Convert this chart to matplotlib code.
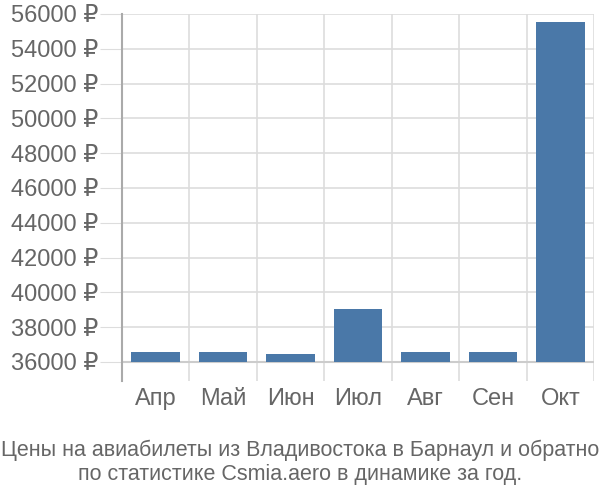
import matplotlib.pyplot as plt
import numpy as np

plt.rcParams['font.family'] = ['Liberation Sans', 'DejaVu Sans']

# monthly prices (rub)
months = ['Апр', 'Май', 'Июн', 'Июл', 'Авг', 'Сен', 'Окт']
prices = [36580, 36580, 36440, 39030, 36580, 36560, 55520]
base = 36000
yticks = list(range(36000, 56001, 2000))
title = 'Цены на авиабилеты из Владивостока в Барнаул и обратно\nпо статистике Csmia.aero в динамике за год.'

fig = plt.figure(figsize=(6, 5), dpi=100)
ax = fig.add_axes([0.203, 0.238, 0.787, 0.734])

x = np.arange(len(months))
ax.bar(x, [p - base for p in prices], bottom=base, width=0.72, color='#4a78a8', zorder=3)

ax.set_xlim(-0.5, len(months) - 0.5)
ax.set_ylim(34900, 56000)

ax.set_yticks(yticks)
ax.set_yticklabels(['%d ₽' % t for t in yticks])
ax.set_xticks(x)
ax.set_xticklabels(months)
ax.set_xticks(np.arange(-0.5, len(months)), minor=True)

ax.grid(axis='y', which='major', color='#dddddd', linewidth=1.2, zorder=0)
ax.grid(axis='x', which='minor', color='#dddddd', linewidth=1.2, zorder=0)
ax.axhline(base, color='#cccccc', linewidth=1.5, zorder=2)

ax.tick_params(axis='y', length=16, color='#dddddd', labelsize=17, labelcolor='#666666', pad=1)
ax.tick_params(axis='x', which='major', length=0, labelsize=17, labelcolor='#666666', pad=5)
ax.tick_params(axis='x', which='minor', length=0)

for s in ['top', 'right', 'bottom']:
    ax.spines[s].set_visible(False)
ax.spines['left'].set_color('#aaaaaa')
ax.spines['left'].set_linewidth(1.5)

fig.text(0.5, 0.03, title, ha='center', va='bottom', fontsize=15.5, color='#666666', linespacing=1.2)

fig.savefig('out.png')
